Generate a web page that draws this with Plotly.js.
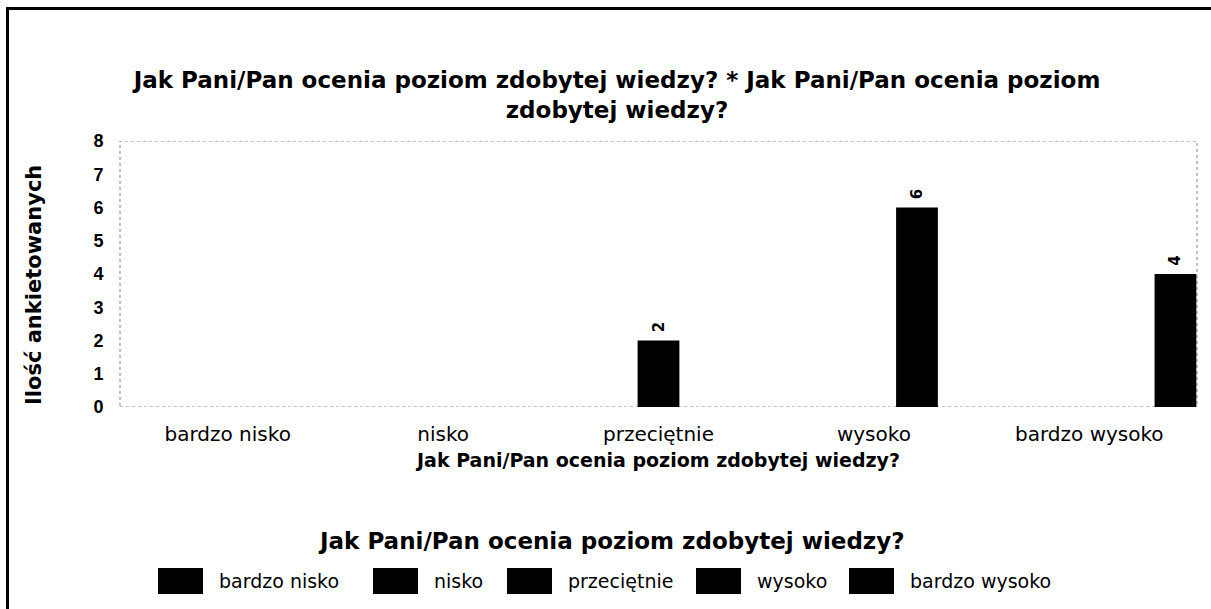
<!DOCTYPE html>
<html>
<head>
<meta charset="utf-8">
<script src="https://cdn.plot.ly/plotly-3.0.1.min.js"></script>
<style>
  html, body { margin: 0; padding: 0; background: #fff; }
  #chart { width: 1211px; height: 609px; }
  #frame { position: absolute; left: 6px; top: 7px; width: 1210px; height: 610px;
           border-left: 3px solid #000; border-top: 3px solid #000;
           box-sizing: border-box; pointer-events: none; }
</style>
</head>
<body>
<div id="chart"></div>
<div id="frame"></div>
<script>
const categories = ["bardzo nisko", "nisko", "przeciętnie", "wysoko", "bardzo wysoko"];
const seriesNames = ["bardzo nisko", "nisko", "przeciętnie", "wysoko", "bardzo wysoko"];
// values[i][j] = count for series i at category j (null = no bar)
const values = [
  [null, null, null, null, null],
  [null, null, null, null, null],
  [null, null, 2, null, null],
  [null, null, null, 6, null],
  [null, null, null, null, 4]
];
const yTicks = [0, 1, 2, 3, 4, 5, 6, 7, 8];
const titleText = "Jak Pani/Pan ocenia poziom zdobytej wiedzy? * Jak Pani/Pan ocenia poziom<br>zdobytej wiedzy?";
const axisText = "Jak Pani/Pan ocenia poziom zdobytej wiedzy?";
const yTitle = "Ilość ankietowanych";

// layout constants (pixels)
const W = 1211, H = 609;
const M = { l: 120, r: 14, t: 141, b: 202 };
const plotW = W - M.l - M.r, plotH = H - M.t - M.b;
const px2x = px => (px - M.l) / plotW;
const px2y = py => (H - M.b - py) / plotH;
const legendSquareLeft = [158, 373, 507, 696, 849];
const legendTop = 568, legendBottom = 594, squareW = 45, textGap = 14;

const boldFont = "DejaVu Sans, Verdana, sans-serif";
const plainFont = "DejaVu Sans, Verdana, sans-serif";

const traces = seriesNames.map((name, i) => ({
  type: "bar",
  name: name,
  x: categories,
  y: values[i],
  text: values[i].map(v => v == null ? "" : "\u00a0" + String(v)),
  textposition: "outside",
  textangle: -90,
  cliponaxis: false,
  textfont: { family: boldFont, size: 15, color: "#000", weight: "bold" },
  marker: { color: "#000", line: { width: 0 } },
  hoverinfo: "skip",
  showlegend: false
}));

const shapes = [{
  type: "rect", xref: "paper", yref: "y", x0: 0, x1: 1, y0: 0, y1: 8,
  line: { color: "#888", width: 1, dash: "dot" }, layer: "below"
}];
const annotations = [
  {
    text: axisText, showarrow: false,
    xref: "paper", x: px2x(611), xanchor: "center",
    yref: "paper", y: px2y(541), yanchor: "middle",
    font: { family: boldFont, size: 23, color: "#000", weight: "bold" }
  },
  {
    text: yTitle, showarrow: false, textangle: -90,
    xref: "paper", x: px2x(34), xanchor: "center",
    yref: "paper", y: px2y(285), yanchor: "middle",
    font: { family: boldFont, size: 21, color: "#000", weight: "bold" }
  }
];
seriesNames.forEach((name, i) => {
  const left = legendSquareLeft[i];
  shapes.push({
    type: "rect", xref: "paper", yref: "paper",
    x0: px2x(left), x1: px2x(left + squareW),
    y0: px2y(legendBottom), y1: px2y(legendTop),
    fillcolor: "#000", line: { width: 0 }
  });
  annotations.push({
    text: name, showarrow: false,
    xref: "paper", x: px2x(left + squareW + textGap), xanchor: "left",
    yref: "paper", y: px2y((legendTop + legendBottom) / 2), yanchor: "middle",
    font: { family: plainFont, size: 19, color: "#000" }
  });
});

const layout = {
  width: W, height: H,
  paper_bgcolor: "#fff", plot_bgcolor: "#fff",
  margin: M,
  barmode: "group",
  bargap: 0,
  bargroupgap: 0.03,
  showlegend: false,
  title: {
    text: titleText,
    font: { family: boldFont, size: 23, color: "#000", weight: "bold" },
    x: 617 / W, xref: "container", xanchor: "center",
    y: 1 - 88 / H, yref: "container", yanchor: "middle"
  },
  xaxis: {
    type: "category",
    categoryarray: categories,
    showgrid: false, zeroline: false, showline: false,
    ticks: "outside", ticklen: 9, tickcolor: "rgba(0,0,0,0)",
    tickfont: { family: plainFont, size: 20, color: "#000" },
    title: { text: axisText, standoff: 8,
             font: { family: boldFont, size: 19, color: "#000", weight: "bold" } },
    fixedrange: true
  },
  yaxis: {
    range: [0, 8],
    tickvals: yTicks,
    showgrid: false, zeroline: false, showline: false,
    ticks: "outside", ticklen: 12, tickcolor: "rgba(0,0,0,0)",
    tickfont: { family: "Liberation Sans, Arial, sans-serif", size: 18, color: "#000", weight: "bold" },
    fixedrange: true
  },
  shapes: shapes,
  annotations: annotations
};

Plotly.newPlot("chart", traces, layout, { displayModeBar: false, staticPlot: true });
</script>
</body>
</html>
